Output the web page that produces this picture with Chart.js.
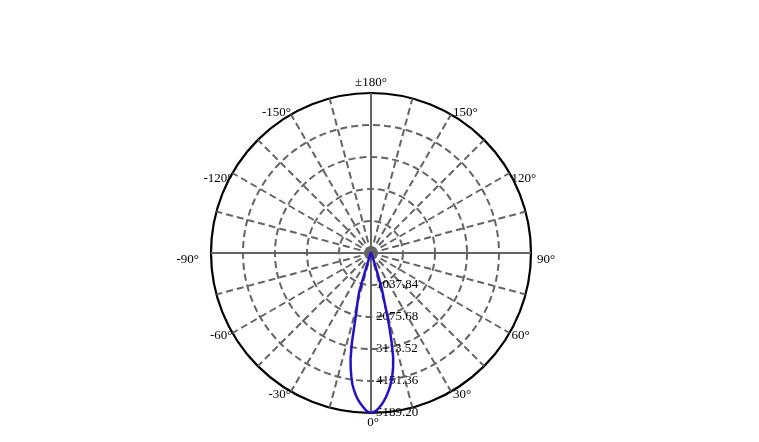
<!DOCTYPE html>
<html>
<head>
<meta charset="utf-8">
<script src="https://cdn.jsdelivr.net/npm/chart.js@4.4.0/dist/chart.umd.min.js"></script>
<style>
body { margin: 0; background: #fff; }
#wrap { width: 759px; height: 442px; }
</style>
</head>
<body>
<div id="wrap"><canvas id="myPolar"></canvas></div>
<script>
// measured intensity (cd) per angle, 0° points down
var angles = [-150, -120, -90, -60, -40, -30, -25, -22, -20, -19, -18, -17, -16, -15, -14, -13, -12, -11,
    -10, -9, -8, -7, -6, -5, -4, -3, -2, -1, 0, 1, 2, 3, 4, 5, 6, 7, 8, 9, 10,
    11, 12, 13, 14, 15, 16, 17, 18, 19, 20, 22, 25, 30, 40, 60, 90, 120, 150, 180];
var candela = [0, 0, 6, 16, 26, 39, 65, 97, 162, 259, 519, 1297, 1524, 1719, 1946, 2368, 2984, 3470,
    3795, 4070, 4314, 4492, 4654, 4784, 4897, 4995, 5092, 5157, 5189.2, 5157, 5108, 5027, 4930, 4816, 4686, 4541, 4395, 4216, 4005,
    3762, 3454, 2984, 2432, 1816, 1427, 1168, 649, 324, 195, 114, 65, 39, 26, 16, 6, 0, 0, 0];
var radialTicks = [0, 1037.84, 2075.68, 3113.52, 4151.36, 5189.20];
var angleTicks = [180, 150, 120, 90, 60, 30, 0, -30, -60, -90, -120, -150];

// one label per degree, clockwise from the top: 180, 179 ... 0 ... -179
var labels = [];
var values = [];
for (var i = 0; i < 360; i++) {
    var a = 180 - i;
    labels.push(a);
    var k = angles.indexOf(a);
    values.push(k >= 0 ? candela[k] : null);
}

var polarText = {
    id: 'polarText',
    beforeDatasetsDraw: function (chart) {
        var r = chart.scales.r;
        var ctx = chart.ctx;
        ctx.save();
        ctx.font = '13px "Liberation Serif"';
        ctx.fillStyle = '#000';
        ctx.textBaseline = 'middle';

        // intensity values along the 0° spoke
        ctx.textAlign = 'left';
        radialTicks.forEach(function (v) {
            if (v === 0) return;
            var p = r.getPointPositionForValue(180, v);
            ctx.fillText(v.toFixed(2), p.x + 5, p.y);
        });

        // angle labels round the rim
        angleTicks.forEach(function (a) {
            var idx = (180 - a) % 360;
            var p = r.getPointPosition(idx, r.drawingArea);
            var txt = (a === 180 ? '±180' : a) + '°';
            var x = p.x, y = p.y;
            var m = Math.abs(a);
            if (a === 180) { ctx.textAlign = 'center'; y -= 10; }
            else if (a === 0) { ctx.textAlign = 'center'; x += 2; y += 10; }
            else if (a === -90) { ctx.textAlign = 'right'; x -= 12; y += 7; }
            else if (a === 90) { ctx.textAlign = 'left'; x += 6; y += 7; }
            else {
                ctx.textAlign = a < 0 ? 'right' : 'left';
                if (a > 0) x += 2;
                y += m === 150 ? -2 : (m === 120 ? 6 : 3);
            }
            ctx.fillText(txt, x, y);
        });
        ctx.restore();
    }
};

var ctx = document.getElementById('myPolar').getContext('2d');
var chart = new Chart(ctx, {
    type: 'radar',
    data: {
        labels: labels,
        datasets: [{
            data: values,
            borderColor: '#2312c4',
            backgroundColor: 'transparent',
            borderWidth: 2.5,
            pointRadius: 0,
            pointHoverRadius: 0,
            fill: false,
            spanGaps: true,
            tension: 0
        }]
    },
    options: {
        responsive: true,
        maintainAspectRatio: false,
        animation: false,
        layout: { padding: { left: 211, top: 93, right: 228, bottom: 29 } },
        plugins: {
            legend: { display: false },
            tooltip: { enabled: false }
        },
        scales: {
            r: {
                min: 0,
                max: 5189.2,
                startAngle: 0,
                afterBuildTicks: function (scale) {
                    scale.ticks = radialTicks.map(function (v) { return { value: v }; });
                },
                ticks: { display: false },
                pointLabels: { display: false },
                grid: {
                    circular: true,
                    color: function (c) { return c.index === 5 ? '#000' : '#646464'; },
                    lineWidth: function (c) { return c.index === 5 ? 2.2 : 2; }
                },
                border: {
                    dash: function (c) { return c.index === 5 ? [] : [7, 4]; }
                },
                angleLines: {
                    color: '#646464',
                    lineWidth: function (c) { return c.index % 15 === 0 ? 2 : 0; },
                    borderDash: function (c) { return c.index % 90 === 0 ? [] : [7, 4]; }
                }
            }
        }
    },
    plugins: [polarText]
});
</script>
</body>
</html>
